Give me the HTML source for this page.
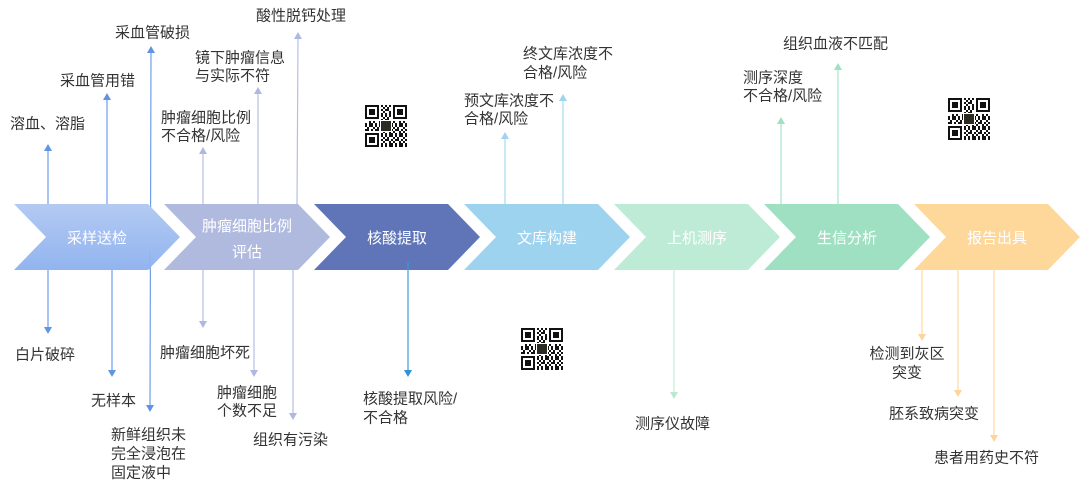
<!DOCTYPE html>
<html>
<head>
<meta charset="utf-8">
<style>
  html,body{margin:0;padding:0;background:#fff;}
  svg{display:block;}
  text{font-family:"Liberation Sans","Noto Sans CJK SC",sans-serif;font-size:15px;fill:#333;}
  .w{fill:#fff;}
</style>
</head>
<body>
<svg width="1080" height="489" viewBox="0 0 1080 489" xmlns="http://www.w3.org/2000/svg">
  <defs>
    <linearGradient id="g1" x1="0" y1="0" x2="0" y2="1">
      <stop offset="0" stop-color="#b3caf3"/>
      <stop offset="1" stop-color="#92b4ef"/>
    </linearGradient>
    <pattern id="qrp" width="10" height="10" patternUnits="userSpaceOnUse">
      <rect width="10" height="10" fill="#fff"/>
      <rect x="0" y="0" width="2" height="2" fill="#111"/>
      <rect x="4" y="0" width="4" height="2" fill="#111"/>
      <rect x="2" y="2" width="2" height="2" fill="#111"/>
      <rect x="8" y="2" width="2" height="2" fill="#111"/>
      <rect x="0" y="4" width="4" height="2" fill="#111"/>
      <rect x="6" y="4" width="2" height="2" fill="#111"/>
      <rect x="4" y="6" width="2" height="2" fill="#111"/>
      <rect x="8" y="6" width="2" height="2" fill="#111"/>
      <rect x="0" y="8" width="2" height="2" fill="#111"/>
      <rect x="4" y="8" width="4" height="2" fill="#111"/>
    </pattern>
    <g id="qr">
      <rect width="42" height="42" fill="url(#qrp)"/>
      <rect x="0" y="0" width="16" height="16" fill="#fff"/>
      <rect x="26" y="0" width="16" height="16" fill="#fff"/>
      <rect x="0" y="26" width="16" height="16" fill="#fff"/>
      <rect x="0" y="0" width="14" height="14" fill="#111"/>
      <rect x="2" y="2" width="10" height="10" fill="#fff"/>
      <rect x="4" y="4" width="6" height="6" fill="#111"/>
      <rect x="28" y="0" width="14" height="14" fill="#111"/>
      <rect x="30" y="2" width="10" height="10" fill="#fff"/>
      <rect x="32" y="4" width="6" height="6" fill="#111"/>
      <rect x="0" y="28" width="14" height="14" fill="#111"/>
      <rect x="2" y="30" width="10" height="10" fill="#fff"/>
      <rect x="4" y="32" width="6" height="6" fill="#111"/>
      <rect x="15" y="15" width="12" height="12" fill="#fff"/>
      <rect x="16" y="16" width="10" height="10" fill="#2b2b22"/>
    </g>
  </defs>

  <!-- ===== connector lines ===== -->
  <!-- chevron 1 (blue) -->
  <g stroke="#6d9eea" stroke-width="1.2" fill="none">
    <line x1="48" y1="151" x2="48" y2="210"/>
    <line x1="107" y1="100" x2="107" y2="210"/>
    <line x1="151" y1="53" x2="150" y2="405"/>
    <line x1="48" y1="270" x2="48" y2="327"/>
    <line x1="112" y1="270" x2="112" y2="370"/>
  </g>
  <g fill="#5f93e6">
    <polygon points="44,151 48,144 52,151"/>
    <polygon points="103,100 107,93 111,100"/>
    <polygon points="147,53 151,46 155,53"/>
    <polygon points="44,327 48,334 52,327"/>
    <polygon points="108,370 112,377 116,370"/>
    <polygon points="146,405 150,412 154,405"/>
  </g>

  <!-- chevron 2 (lavender) -->
  <g stroke="#b6bfe3" stroke-width="1.2" fill="none">
    <line x1="203" y1="154" x2="203" y2="206"/>
    <line x1="258" y1="94" x2="258" y2="206"/>
    <line x1="298" y1="39" x2="297" y2="206"/>
    <line x1="203" y1="270" x2="203" y2="321"/>
    <line x1="254" y1="270" x2="254" y2="370"/>
    <line x1="293" y1="270" x2="293" y2="413"/>
  </g>
  <g fill="#aeb8e0">
    <polygon points="199,154 203,147 207,154"/>
    <polygon points="254,94 258,87 262,94"/>
    <polygon points="294,39 298,32 302,39"/>
    <polygon points="199,321 203,328 207,321"/>
    <polygon points="250,370 254,377 258,370"/>
    <polygon points="289,413 293,420 297,413"/>
  </g>

  <!-- chevron 4 (light blue) -->
  <g stroke="#a8d8f1" stroke-width="1.2" fill="none">
    <line x1="505" y1="139" x2="505" y2="206"/>
    <line x1="563" y1="101" x2="563" y2="206"/>
  </g>
  <g fill="#9fd3f0">
    <polygon points="501,139 505,132 509,139"/>
    <polygon points="559,101 563,94 567,101"/>
  </g>

  <!-- chevron 5 (mint) -->
  <g stroke="#c2ecd9" stroke-width="1.2" fill="none">
    <line x1="674" y1="270" x2="674" y2="392"/>
  </g>
  <polygon points="670,392 674,399 678,392" fill="#b8e9d2"/>

  <!-- chevron 6 (green) -->
  <g stroke="#a8e4c9" stroke-width="1.2" fill="none">
    <line x1="781" y1="124" x2="781" y2="206"/>
    <line x1="838" y1="70" x2="838" y2="206"/>
  </g>
  <g fill="#a0e0c3">
    <polygon points="777,124 781,117 785,124"/>
    <polygon points="834,70 838,63 842,70"/>
  </g>

  <!-- chevron 7 (orange) -->
  <g stroke="#fdd9a2" stroke-width="1.2" fill="none">
    <line x1="922" y1="270" x2="922" y2="334"/>
    <line x1="958" y1="270" x2="958" y2="390"/>
    <line x1="994" y1="270" x2="994" y2="435"/>
  </g>
  <g fill="#fdd49a">
    <polygon points="918,334 922,341 926,334"/>
    <polygon points="954,390 958,397 962,390"/>
    <polygon points="990,435 994,442 998,435"/>
  </g>

  <!-- ===== chevrons ===== -->
  <path d="M14,204 L148,204 L180,237 L148,270 L14,270 L46,237 Z" fill="url(#g1)"/>
  <path d="M164,204 L298,204 L330,237 L298,270 L164,270 L196,237 Z" fill="#b0badf"/>
  <path d="M314,204 L448,204 L480,237 L448,270 L314,270 L346,237 Z" fill="#5f75b8"/>
  <path d="M464,204 L598,204 L630,237 L598,270 L464,270 L496,237 Z" fill="#9dd3ef"/>
  <path d="M614,204 L748,204 L780,237 L748,270 L614,270 L646,237 Z" fill="#bdebd6"/>
  <path d="M764,204 L898,204 L930,237 L898,270 L764,270 L796,237 Z" fill="#9fe0c2"/>
  <path d="M914,204 L1048,204 L1080,237 L1048,270 L914,270 L946,237 Z" fill="#fed79b"/>

  <!-- line through chevron 1 lower part and chevron 3 down-arrow -->
  <line x1="150" y1="252" x2="150" y2="270" stroke="#8fb2ee" stroke-width="1.2"/>
  <line x1="408" y1="262" x2="408" y2="370" stroke="#3b9bd8" stroke-width="1.2"/>
  <polygon points="404,370 408,377 412,370" fill="#2f93d6"/>

  <!-- chevron labels -->
  <g text-anchor="middle">
    <text class="w" x="97" y="243">采样送检</text>
    <text class="w" x="247" y="231">肿瘤细胞比例</text>
    <text class="w" x="247" y="257">评估</text>
    <text class="w" x="397" y="243">核酸提取</text>
    <text class="w" x="547" y="243">文库构建</text>
    <text class="w" x="697" y="243">上机测序</text>
    <text class="w" x="847" y="243">生信分析</text>
    <text class="w" x="997" y="243">报告出具</text>
  </g>

  <!-- ===== labels ===== -->
  <text x="10" y="128.5">溶血、溶脂</text>
  <text x="60" y="85.5">采血管用错</text>
  <text x="115" y="37.5">采血管破损</text>
  <text x="161" y="122.5">肿瘤细胞比例</text>
  <text x="161" y="140.5">不合格/风险</text>
  <text x="195" y="62.5">镜下肿瘤信息</text>
  <text x="195" y="80.5">与实际不符</text>
  <text x="256" y="20.5">酸性脱钙处理</text>

  <text x="15" y="359.5">白片破碎</text>
  <text x="91" y="405.5">无样本</text>
  <text x="111" y="439.5">新鲜组织未</text>
  <text x="111" y="458.5">完全浸泡在</text>
  <text x="111" y="477.5">固定液中</text>
  <text x="160" y="357.5">肿瘤细胞坏死</text>
  <text x="217" y="397.5">肿瘤细胞</text>
  <text x="217" y="415.5">个数不足</text>
  <text x="253" y="444.5">组织有污染</text>

  <text x="363" y="403.5">核酸提取风险/</text>
  <text x="363" y="422.5">不合格</text>

  <text x="464" y="105.5">预文库浓度不</text>
  <text x="464" y="123.5">合格/风险</text>
  <text x="523" y="58.5">终文库浓度不</text>
  <text x="523" y="77.5">合格/风险</text>

  <text x="635" y="428.5">测序仪故障</text>

  <text x="743" y="82.5">测序深度</text>
  <text x="743" y="100.5">不合格/风险</text>
  <text x="783" y="48.5">组织血液不匹配</text>

  <text x="907" y="358.5" text-anchor="middle">检测到灰区</text>
  <text x="907" y="377.5" text-anchor="middle">突变</text>
  <text x="889" y="418.5">胚系致病突变</text>
  <text x="934" y="462.5">患者用药史不符</text>

  <!-- ===== QR codes ===== -->
  <use href="#qr" x="365" y="105"/>
  <use href="#qr" x="948" y="98"/>
  <use href="#qr" x="521" y="328"/>
</svg>
</body>
</html>
